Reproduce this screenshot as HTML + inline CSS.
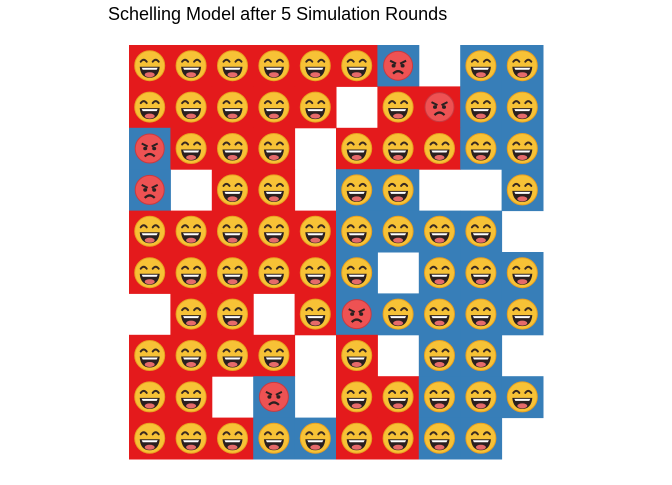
<!DOCTYPE html>
<html><head><meta charset="utf-8"><style>
body{margin:0;background:#fff;width:672px;height:480px;overflow:hidden}
</style></head><body>
<svg id="chart" width="672" height="480" xmlns="http://www.w3.org/2000/svg">
<text x="108" y="20" font-family="Liberation Sans, sans-serif" font-size="18" fill="#000">Schelling Model after 5 Simulation Rounds</text>
<g id="cells"></g>
</svg>
<script>
// group per cell: R=red, B=blue, W=empty
const groups = [
"RRRRRRBWBB",
"RRRRRWRRBB",
"BRRRWRRRBB",
"BWRRWBBWWB",
"RRRRRBBBBW",
"RRRRRBWBBB",
"WRRWRBBBBB",
"RRRRWRWBBW",
"RRWBWRRBBB",
"RRRBBRRBBW"
];
// happiness per cell: H=happy, A=angry, -=none
const moods = [
"HHHHHHAWHH",
"HHHHHWHAHH",
"AHHHWHHHHH",
"AWHHWHHWWH",
"HHHHHHHHHW",
"HHHHHHWHHH",
"WHHWHAHHHH",
"HHHHWHWHHW",
"HHWAWHHHHH",
"HHHHHHHHHW"
];
const colors = {R:"#E41A1C", B:"#377EB8"};
const x0=129, y0=45, cw=41.4, ch=41.4;
const xScale = c => x0 + c*cw;
const yScale = r => y0 + r*ch;
const NS="http://www.w3.org/2000/svg";
const g=document.getElementById('cells');
function mk(tag, attrs, parent){const e=document.createElementNS(NS,tag);for(const k in attrs)e.setAttribute(k,attrs[k]);parent.appendChild(e);return e;}
function happy(cx,cy,p){
  const f=mk('g',{},p);
  
  
  mk('circle',{cx:cx,cy:cy,r:15,fill:'#F7C236',stroke:'#E8A020','stroke-width':1},f);
  mk('path',{d:`M${cx-9} ${cy-4} q3 -4 6 0 M${cx+3} ${cy-4} q3 -4 6 0`,stroke:'#3a2a20','stroke-width':2,fill:'none','stroke-linecap':'round'},f);
  mk('path',{d:`M${cx-10} ${cy+1} L${cx+10} ${cy+1} Q${cx+9} ${cy+12} ${cx} ${cy+12} Q${cx-9} ${cy+12} ${cx-10} ${cy+1}Z`,fill:'#2a2020'},f);
  mk('path',{d:`M${cx-8} ${cy+2} L${cx+8} ${cy+2} L${cx+7} ${cy+4} L${cx-7} ${cy+4}Z`,fill:'#fff'},f);
  mk('ellipse',{cx:cx,cy:cy+9,rx:5,ry:2.5,fill:'#E66A6A'},f);
}
function angry(cx,cy,p){
  const f=mk('g',{},p);
  
  
  mk('circle',{cx:cx,cy:cy,r:14.5,fill:'#EE5253',stroke:'#C83A40','stroke-width':1},f);
  mk('path',{d:`M${cx-8} ${cy-5} L${cx-2} ${cy-2} M${cx+8} ${cy-5} L${cx+2} ${cy-2}`,stroke:'#2a2020','stroke-width':2},f);
  mk('ellipse',{cx:cx-4.5,cy:cy,rx:2,ry:1.8,fill:'#2a2020'},f);
  mk('ellipse',{cx:cx+4.5,cy:cy,rx:2,ry:1.8,fill:'#2a2020'},f);
  mk('path',{d:`M${cx-5} ${cy+8} Q${cx} ${cy+3} ${cx+5} ${cy+8}`,stroke:'#2a2020','stroke-width':2.2,fill:'none'},f);
}
groups.forEach((row,r)=>{
  [...row].forEach((gr,c)=>{
    if(gr==='W') return;
    const rect=mk('rect',{x:xScale(c),y:yScale(r),width:cw+0.5,height:ch+0.5,fill:colors[gr]},g);
    
    
  });
});
moods.forEach((row,r)=>{
  [...row].forEach((m,c)=>{
    const cx=xScale(c)+cw/2, cy=yScale(r)+ch/2;
    if(m==='H') happy(cx,cy,g);
    else if(m==='A') angry(cx,cy,g);
  });
});
</script>
</body></html>
